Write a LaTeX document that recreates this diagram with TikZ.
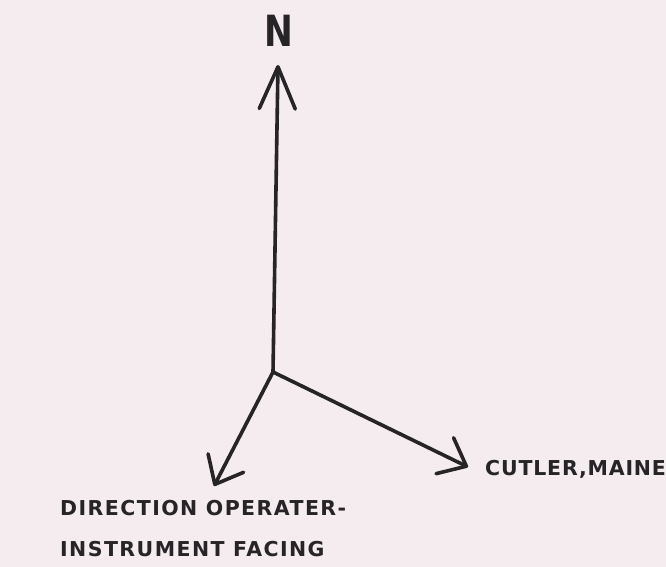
\documentclass[tikz,border=0pt]{standalone}
\usepackage{fontspec}
\setmainfont{DejaVu Sans}
\newfontfamily\lblfont[LetterSpace=7]{DejaVu Sans}
\newfontfamily\cutfont[LetterSpace=4]{DejaVu Sans}
\usetikzlibrary{arrows.meta}
\definecolor{paper}{RGB}{244,236,238}
\definecolor{ink}{RGB}{38,36,38}
\tikzset{
  axisline/.style={draw=ink, line width=3.6pt, line cap=round, line join=round},
  longhead/.style={-{Straight Barb[length=42pt,width=36pt,round]}},
  shorthead/.style={-{Straight Barb[length=24pt,width=40pt,round]}},
  lbl/.style={text=ink, inner sep=0pt, font=\lblfont\bfseries\fontsize{20.5}{24}\selectfont},
  cutlbl/.style={text=ink, inner sep=0pt, font=\cutfont\bfseries\fontsize{20.5}{24}\selectfont},
}
\begin{document}
\begin{tikzpicture}[x=1pt,y=-1pt]
  \fill[paper] (0,0) rectangle (666,567);
  \useasboundingbox (0,0) rectangle (666,567);
  \coordinate (O) at (273,372);
  \coordinate (tipN) at (278,65);
  \coordinate (tipS) at (214,486);
  \coordinate (tipE) at (468,467);
  \node[text=ink, inner sep=0pt, anchor=base, xscale=0.8,
        font=\bfseries\fontsize{43}{48}\selectfont] (north) at (278.5,47) {N};
  \draw[axisline, longhead] (O) -- (tipN);
  \draw[axisline, shorthead] (O) -- (tipS);
  \draw[axisline, shorthead] (O) -- (tipE);
  \node[lbl, anchor=base west] (dir1) at (60,515) {DIRECTION OPERATER-};
  \node[lbl, anchor=base west] (dir2) at (60,556) {INSTRUMENT FACING};
  \node[cutlbl, anchor=base west] (cut) at (485,475) {CUTLER,MAINE};
\end{tikzpicture}
\end{document}
